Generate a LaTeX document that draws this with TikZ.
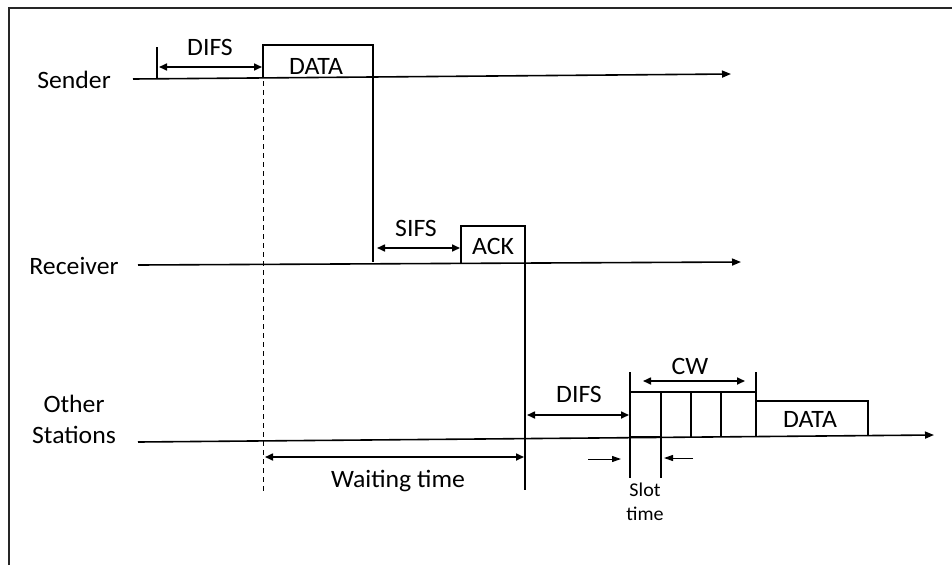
\documentclass[tikz,border=0pt]{standalone}
\usepackage{fontspec}
\setmainfont{Carlito}[FakeStretch=1.03]
\usetikzlibrary{arrows.meta}
\tikzset{
  ln/.style={line width=1.6pt},
  tl/.style={line width=1.6pt,-{Triangle[length=9pt,width=7pt]}},
  dbl/.style={line width=1.6pt,{Triangle[length=8pt,width=7pt]}-{Triangle[length=8pt,width=7pt]}},
  thinarr/.style={line width=1pt,-{Triangle[length=9pt,width=6pt]}},
  lbl/.style={font=\fontsize{25}{31}\selectfont,inner sep=0pt},
  small/.style={font=\fontsize{19.5}{24}\selectfont,inner sep=0pt,align=center},
  box/.style={line width=1.6pt}
}
\begin{document}
\begin{tikzpicture}[x=1pt,y=-1pt]
\useasboundingbox (0,0) rectangle (952,565);
% frame
\draw[line width=1.4pt,black!85] (9,565) -- (9,8) -- (952,8);

% labels
\node[lbl] (snd) at (74,80) {Sender};
\node[lbl] (rcv) at (74,266) {Receiver};
\node[lbl,align=center] (oth) at (74,419) {Other\\Stations};

% coordinates
\coordinate (s0) at (133,79);
\coordinate (s1) at (731,74);
\coordinate (r0) at (138,265);
\coordinate (r1) at (741,262);
\coordinate (o0) at (138,442);
\coordinate (o1) at (934,435);

% time axes
\draw[tl] (s0) -- (s1);
\draw[tl] (r0) -- (r1);
\draw[tl] (o0) -- (o1);

% sender
\coordinate (d1a) at (157,47);
\coordinate (d1b) at (157,79);
\draw[ln] (d1a) -- (d1b);
\coordinate (difsA) at (159,67);
\coordinate (difsB) at (262,67);
\draw[dbl] (difsA) -- (difsB);
\node[lbl] (difs1) at (210,47) {DIFS};
\coordinate (dt0) at (263,45);
\coordinate (dt1) at (263,492);
\draw[line width=1pt,dashed,dash pattern=on 5pt off 4pt] (dt0) -- (dt1);
\coordinate (da0) at (263,78);
\coordinate (da1) at (263,45);
\coordinate (da2) at (373,45);
\coordinate (da3) at (373,262);
\draw[box] (da0) -- (da1) -- (da2) -- (da3);
\node[lbl] (data1) at (316,66) {DATA};

% receiver
\coordinate (sifsA) at (377,248);
\coordinate (sifsB) at (460,248);
\draw[dbl] (sifsA) -- (sifsB);
\node[lbl] (sifs) at (416,228) {SIFS};
\coordinate (ak0) at (461,264);
\coordinate (ak1) at (461,226);
\coordinate (ak2) at (525,226);
\coordinate (ak3) at (525,490);
\draw[box] (ak0) -- (ak1) -- (ak2) -- (ak3);
\node[lbl] (ack) at (493,246) {ACK};

% other stations
\coordinate (difs2A) at (527,415);
\coordinate (difs2B) at (629,415);
\draw[dbl] (difs2A) -- (difs2B);
\node[lbl] (difs2) at (579,394) {DIFS};
\coordinate (c0a) at (630,372);
\coordinate (c0b) at (630,478);
\draw[ln] (c0a) -- (c0b);
\coordinate (c1a) at (661,392);
\coordinate (c1b) at (661,478);
\draw[ln] (c1a) -- (c1b);
\coordinate (c2a) at (691,392);
\coordinate (c2b) at (691,437);
\draw[line width=1.2pt] (c2a) -- (c2b);
\coordinate (c3a) at (721,392);
\coordinate (c3b) at (721,437);
\draw[ln] (c3a) -- (c3b);
\coordinate (c4a) at (756,372);
\coordinate (c4b) at (756,437);
\draw[ln] (c4a) -- (c4b);
\coordinate (ctl) at (630,392);
\coordinate (ctr) at (756,392);
\draw[line width=1.2pt] (ctl) -- (ctr);
\coordinate (cbl) at (630,437);
\coordinate (cbr) at (661,437);
\draw[line width=2.6pt] (cbl) -- (cbr);
\coordinate (cwA) at (643,381);
\coordinate (cwB) at (745,381);
\draw[dbl] (cwA) -- (cwB);
\node[lbl] (cw) at (690,366) {CW};
\coordinate (db0) at (756,401);
\coordinate (db1) at (868,401);
\coordinate (db2) at (868,436);
\draw[box] (db0) -- (db1) -- (db2);
\node[lbl] (data2) at (810,419) {DATA};

% slot time
\coordinate (slA) at (588,459);
\coordinate (slB) at (621,459);
\draw[thinarr] (slA) -- (slB);
\coordinate (srA) at (693,458);
\coordinate (srB) at (664,458);
\draw[thinarr] (srA) -- (srB);
\node[small] (slot) at (645,502) {Slot\\time};

% waiting time
\coordinate (wA) at (265,457);
\coordinate (wB) at (524,457);
\draw[dbl] (wA) -- (wB);
\node[lbl] (wait) at (398,481) {Waiting time};
\end{tikzpicture}
\end{document}
